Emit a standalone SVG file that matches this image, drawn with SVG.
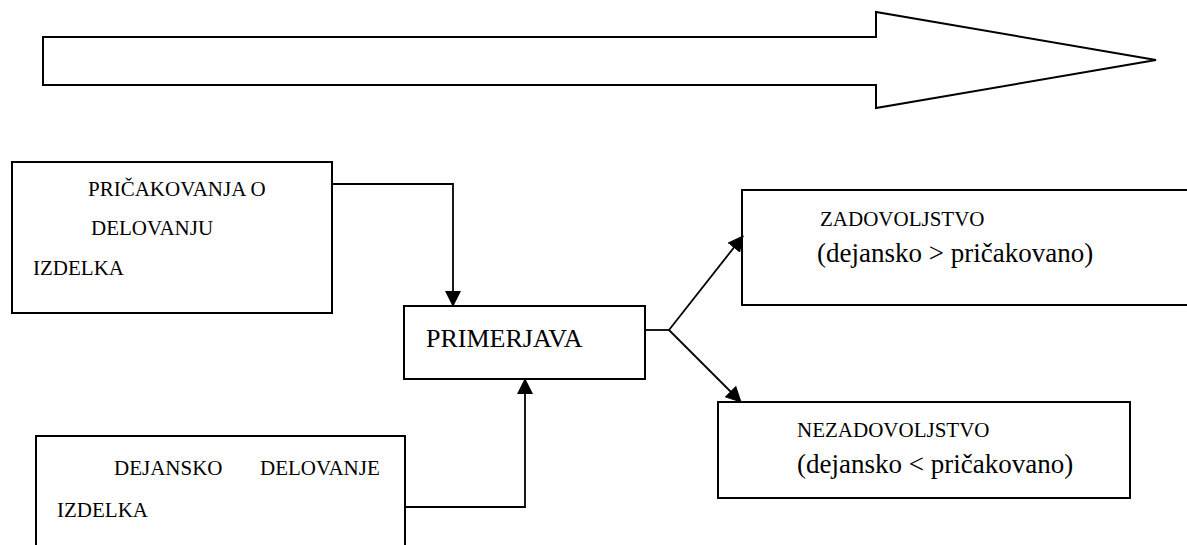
<svg xmlns="http://www.w3.org/2000/svg" width="1187" height="545" viewBox="0 0 1187 545">
<style>
.box{fill:#fff;stroke:#000;stroke-width:2}
.con{fill:none;stroke:#000;stroke-width:1.8}
text{font-family:"Liberation Serif","Times New Roman",serif;fill:#000}
.s{font-size:21px}
.m{font-size:26px}
.l{font-size:27px}
</style>
<defs>
<marker id="ah" markerUnits="userSpaceOnUse" markerWidth="16" markerHeight="16" viewBox="0 0 16 16" refX="15" refY="8" orient="auto">
<path d="M0,0 L16,8 L0,16 Z" fill="#000"/>
</marker>
</defs>
<g id="bigarrow">
<path d="M43,37 L876,37 L876,12 L1156,60 L876,108 L876,85 L43,85 Z" fill="#fff" stroke="#000" stroke-width="2"/>
</g>
<g id="pricakovanja">
<rect class="box" x="12" y="162" width="320" height="151"/>
<text class="s" x="88" y="196">PRIČAKOVANJA O</text>
<text class="s" x="91" y="235">DELOVANJU</text>
<text class="s" x="33" y="275">IZDELKA</text>
</g>
<g id="dejansko">
<rect class="box" x="36" y="436" width="369" height="130"/>
<text class="s" x="114" y="475">DEJANSKO</text>
<text class="s" x="260" y="475">DELOVANJE</text>
<text class="s" x="57" y="517">IZDELKA</text>
</g>
<g id="primerjava">
<rect class="box" x="404" y="306" width="241" height="73"/>
<text class="m" x="426" y="347">PRIMERJAVA</text>
</g>
<g id="zadovoljstvo">
<rect class="box" x="742" y="190" width="460" height="115"/>
<text class="s" x="820" y="226">ZADOVOLJSTVO</text>
<text class="l" x="817" y="262">(dejansko &gt; pričakovano)</text>
</g>
<g id="nezadovoljstvo">
<rect class="box" x="718" y="402" width="412" height="96"/>
<text class="s" x="797" y="437">NEZADOVOLJSTVO</text>
<text class="l" x="797" y="473">(dejansko &lt; pričakovano)</text>
</g>
<g id="connectors">
<path class="con" d="M332,184 L453,184 L453,306" marker-end="url(#ah)"/>
<path class="con" d="M405,507 L525,507 L525,379" marker-end="url(#ah)"/>
<path class="con" d="M645,330 L669,330"/>
<path class="con" d="M669,330 L743,236" marker-end="url(#ah)"/>
<path class="con" d="M669,330 L741,402" marker-end="url(#ah)"/>
</g>
</svg>
